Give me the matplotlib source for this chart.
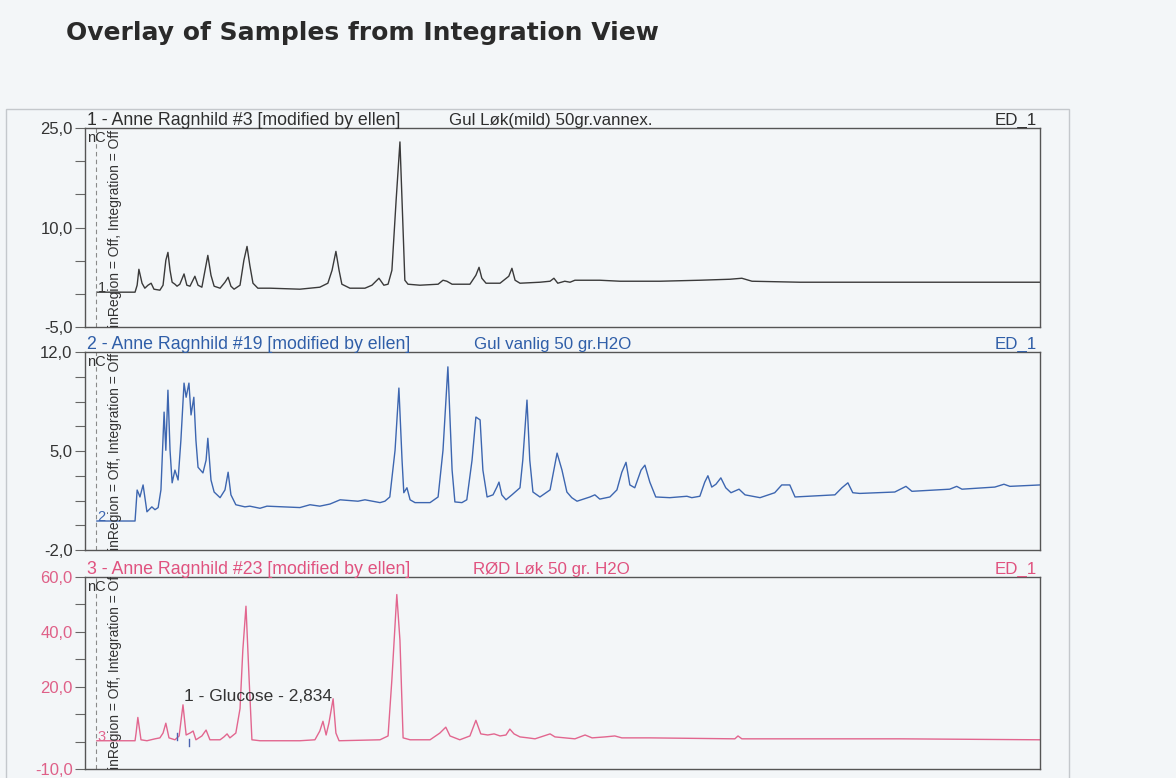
import matplotlib
matplotlib.use("Agg")
import matplotlib.pyplot as plt
from matplotlib.patches import Rectangle
from matplotlib.ticker import FixedLocator, FuncFormatter

plt.rcParams["font.family"] = ["Liberation Sans", "DejaVu Sans"]

TITLE = "Overlay of Samples from Integration View"
RUN_LABELS = [
    "1 - Anne Ragnhild #3 [modified by ellen]",
    "2 - Anne Ragnhild #19 [modified by ellen]",
    "3 - Anne Ragnhild #23 [modified by ellen]",
]
SAMPLE_NAMES = ["Gul Løk(mild) 50gr.vannex.", "Gul vanlig 50 gr.H2O", "RØD Løk 50 gr. H2O"]
DETECTOR = "ED_1"
TRACE_IDS = ["1", "2", "3"]

# y ranges (nC) and labelled ticks for each run
Y_LIMITS = [(-5.0, 25.0), (-2.0, 12.0), (-10.0, 60.0)]
Y_MAJOR = [[-5.0, 10.0, 25.0], [-2.0, 5.0, 12.0], [-10.0, 20.0, 40.0, 60.0]]
Y_MINOR = [[0.0, 5.0, 15.0, 20.0], [-0.25, 1.5, 3.25, 6.75, 8.5, 10.25], [0.0, 10.0, 30.0, 50.0]]

# run 1: retention time (min) / signal (nC)
t1 = [0.34, 1.43, 1.49, 1.54, 1.63, 1.71, 1.80, 1.89, 1.97, 2.14, 2.23, 2.31, 2.37, 2.43, 2.49,
      2.57, 2.63, 2.71, 2.83, 2.91, 3.00, 3.14, 3.23, 3.34, 3.43, 3.51, 3.60, 3.69, 3.86, 4.00,
      4.09, 4.17, 4.26, 4.43, 4.54, 4.63, 4.71, 4.80, 4.94, 5.29, 6.14, 6.71, 6.94, 7.06, 7.17,
      7.26, 7.34, 7.57, 8.00, 8.20, 8.40, 8.54, 8.66, 8.77, 8.89, 9.00, 9.09, 9.14, 9.23, 9.57,
      10.09, 10.23, 10.34, 10.49, 11.00, 11.17, 11.26, 11.34, 11.46, 11.86, 12.11, 12.20, 12.29,
      12.43, 13.00, 13.29, 13.40, 13.51, 13.71, 13.86, 14.00, 14.71, 15.29, 16.43, 17.57, 18.43,
      18.77, 19.06, 20.43, 23.29, 27.29]
sig1 = [0.25, 0.25, 1.3, 3.7, 1.6, 0.85, 1.3, 1.6, 0.7, 0.55, 1.3, 5.05, 6.25, 3.55, 1.75,
        1.45, 1.15, 1.45, 3.0, 1.3, 1.15, 2.65, 1.3, 1.0, 3.55, 5.8, 2.8, 1.15, 0.85, 1.75,
        2.5, 1.15, 0.7, 1.3, 5.05, 7.15, 4.3, 1.6, 0.85, 0.85, 0.7, 1.0, 1.6, 3.55, 6.4,
        3.55, 1.45, 0.85, 0.85, 1.3, 2.35, 1.3, 1.45, 3.55, 14.05, 22.9, 9.55, 2.05, 1.45, 1.3,
        1.45, 2.05, 1.9, 1.45, 1.45, 2.8, 4.0, 2.35, 1.6, 1.6, 2.65, 3.85, 2.05,
        1.6, 1.75, 1.9, 2.35, 1.6, 1.9, 1.75, 2.05, 2.05, 1.9, 1.9, 2.05, 2.2,
        2.35, 1.9, 1.75, 1.75, 1.75]

# run 2
t2 = [0.34, 1.43, 1.49, 1.54, 1.57, 1.66, 1.77, 1.91, 2.00, 2.09, 2.17, 2.26, 2.31, 2.37, 2.43,
      2.49, 2.57, 2.66, 2.74, 2.83, 2.89, 2.97, 3.03, 3.11, 3.17, 3.23, 3.37, 3.46, 3.51, 3.60,
      3.69, 3.86, 4.00, 4.09, 4.17, 4.31, 4.57, 4.71, 5.00, 5.20, 5.66, 6.14, 6.43, 6.71, 7.00,
      7.29, 7.80, 8.00, 8.43, 8.57, 8.71, 8.86, 8.97, 9.06, 9.11, 9.20, 9.29, 9.43, 9.86, 10.09,
      10.23, 10.37, 10.49, 10.57, 10.77, 10.91, 11.06, 11.17, 11.29, 11.37, 11.49, 11.66, 11.77,
      11.83, 11.91, 12.03, 12.20, 12.43, 12.51, 12.63, 12.71, 12.80, 13.00, 13.29, 13.49, 13.63,
      13.77, 13.91, 14.06, 14.43, 14.57, 14.71, 15.00, 15.20, 15.34, 15.46, 15.57, 15.71, 15.89,
      16.00, 16.14, 16.31, 16.71, 17.20, 17.34, 17.57, 17.71, 17.80, 17.91, 18.03, 18.17, 18.31,
      18.46, 18.69, 18.86, 19.29, 19.71, 19.91, 20.14, 20.29, 21.43, 21.63, 21.80, 21.94, 22.14,
      23.14, 23.46, 23.63, 24.71, 24.91, 25.06, 26.00, 26.26, 26.43, 27.29]
sig2 = [0.05, 0.05, 2.24, 1.95, 1.75, 2.6, 0.7, 1.05, 0.85, 1.0, 2.25, 7.75, 5.05, 9.3, 5.05,
        2.75, 3.65, 2.95, 5.75, 9.8, 8.8, 9.8, 7.55, 8.8, 5.75, 3.85, 3.45, 4.35, 5.9, 2.95,
        2.1, 1.7, 2.25, 3.5, 1.9, 1.2, 1.05, 1.1, 0.95, 1.1, 1.05, 1.0, 1.2, 1.1, 1.25,
        1.55, 1.45, 1.55, 1.35, 1.45, 1.75, 5.05, 9.45, 4.35, 2.05, 2.4, 1.55, 1.35, 1.35, 1.75,
        5.05, 10.95, 3.65, 1.4, 1.35, 1.55, 4.35, 7.4, 7.2, 3.65, 1.75, 1.9, 2.45,
        2.8, 1.9, 1.55, 1.9, 2.4, 4.35, 8.6, 4.35, 2.1, 1.75, 2.25, 4.85, 3.65,
        2.1, 1.7, 1.45, 1.75, 1.9, 1.6, 1.75, 2.25, 3.5, 4.2, 2.6, 2.4, 3.65,
        4.0, 2.8, 1.75, 1.7, 1.8, 1.7, 1.8, 2.8, 3.25, 2.45, 2.65, 3.1, 2.4,
        2.05, 2.3, 1.9, 1.7, 2.05, 2.6, 2.6, 1.75, 1.9, 2.4, 2.75, 2.05, 2.0,
        2.1, 2.5, 2.15, 2.3, 2.5, 2.3, 2.45, 2.65, 2.5, 2.6]

# run 3
t3 = [0.34, 1.43, 1.46, 1.51, 1.60, 1.77, 2.00, 2.14, 2.23, 2.31, 2.40, 2.57, 2.69, 2.80, 2.89,
      3.00, 3.09, 3.17, 3.34, 3.46, 3.57, 3.86, 3.97, 4.06, 4.14, 4.31, 4.43, 4.51, 4.60, 4.69,
      4.77, 5.00, 6.14, 6.57, 6.71, 6.80, 6.89, 6.97, 7.09, 7.17, 7.26, 8.43, 8.66, 8.77, 8.91,
      9.00, 9.09, 9.29, 9.86, 10.14, 10.31, 10.43, 10.57, 10.71, 11.00, 11.17, 11.31, 11.51,
      11.69, 11.86, 12.03, 12.14, 12.26, 12.43, 12.66, 12.86, 13.29, 13.43, 14.00, 14.29, 14.49,
      14.86, 15.14, 15.34, 16.14, 18.57, 18.66, 18.77, 20.43, 23.29, 27.29]
sig3 = [0.3, 0.3, 3.1, 8.8, 0.65, 0.3, 1.0, 1.35, 3.1, 6.7, 1.35, 0.65, 2.05, 13.4, 2.4,
        3.1, 3.85, 0.65, 2.05, 4.2, 0.65, 0.65, 1.7, 2.8, 1.35, 3.1, 12.0, 33.35, 49.35, 22.7,
        0.65, 0.3, 0.3, 0.65, 3.85, 7.4, 2.4, 6.7, 15.6, 3.1, 0.3, 0.65, 2.05, 22.7, 53.6,
        36.9, 1.35, 0.65, 0.65, 3.1, 5.25, 2.05, 1.35, 0.65, 2.05, 7.75, 2.8, 2.4,
        2.8, 2.05, 2.4, 4.55, 2.8, 1.7, 1.35, 1.0, 2.8, 1.7, 1.0, 2.4, 1.35,
        1.7, 2.05, 1.35, 1.35, 1.0, 2.05, 1.0, 1.0, 1.0, 0.65]

BASELINES = [0.25, 0.05, 0.3]
PEAK_LABEL = "1 - Glucose - 2,834"
PEAK_LABEL_POS = (2.83, 16.3)
GLUCOSE_DELIMITERS = [(2.63, 0.5, 3.0), (2.97, -1.5, 1.0)]
REGION_LINE = 0.31
X_RANGE = (0.0, 27.29)

TRACE_COLORS = ["#3a3a3a", "#3d66b0", "#e2668f"]
HEADER_COLORS = ["#2e2e2e", "#2f5ea8", "#e0527f"]
TICK_COLORS = ["#333333", "#333333", "#df6088"]
BG = "#f3f6f8"

traces = [(t1, sig1), (t2, sig2), (t3, sig3)]

fig = plt.figure(figsize=(11.76, 7.78), dpi=100, facecolor=BG)
W, H = 1176.0, 778.0

fig.text(66 / W, 1 - 40 / H, TITLE, fontsize=18, fontweight="bold", family="DejaVu Sans",
         color="#2a2a2a", va="baseline")
fig.add_artist(Rectangle((6 / W, -0.05), (1069 - 6) / W, 0.05 + 1 - 109 / H,
                         transform=fig.transFigure, fill=False, edgecolor="#c4c8cc", linewidth=1.0))

panel_px = [(128, 327), (352, 550), (577, 769)]
fmt = FuncFormatter(lambda v, _: f"{v:.1f}".replace(".", ","))

for i, (top, bottom) in enumerate(panel_px):
    ax = fig.add_axes([85 / W, 1 - bottom / H, 955 / W, (bottom - top) / H])
    ax.set_facecolor(BG)
    t, s = traces[i]
    ax.plot(t, s, color=TRACE_COLORS[i], linewidth=1.0, solid_joinstyle="round")
    ax.set_xlim(*X_RANGE)
    ax.set_ylim(*Y_LIMITS[i])
    ax.set_xticks([])
    ax.yaxis.set_major_locator(FixedLocator(Y_MAJOR[i]))
    ax.yaxis.set_minor_locator(FixedLocator(Y_MINOR[i]))
    ax.yaxis.set_major_formatter(fmt)
    ax.tick_params(axis="y", which="both", length=7, width=0.8, color="#666666",
                   labelsize=12, labelcolor=TICK_COLORS[i], pad=2)
    for sp in ax.spines.values():
        sp.set_color("#555555")
        sp.set_linewidth(1.0)

    ax.annotate(RUN_LABELS[i], xy=(0.002, 1.0), xycoords="axes fraction", xytext=(0, 2.5),
                textcoords="offset points", fontsize=12.8, color=HEADER_COLORS[i], va="baseline")
    mid_x = [0.381, 0.407, 0.406][i]
    ax.annotate(SAMPLE_NAMES[i], xy=(mid_x, 1.0), xycoords="axes fraction", xytext=(0, 2.5),
                textcoords="offset points", fontsize=12.2, color=HEADER_COLORS[i], va="baseline")
    ax.annotate(DETECTOR, xy=(0.997, 1.0), xycoords="axes fraction", xytext=(0, 2.5),
                textcoords="offset points", fontsize=12.2, color=HEADER_COLORS[i],
                va="baseline", ha="right")

    ax.axvline(REGION_LINE, color="#8a8a8a", linestyle=(0, (4, 3)), linewidth=0.8)
    ax.text(0.002, 0.985, "nC", transform=ax.transAxes, fontsize=10.5, color="#333333",
            va="top", ha="left")
    ax.text(0.86, 0.0, "inRegion = Off, Integration = Off", transform=ax.get_xaxis_transform(),
            rotation=90, fontsize=10, color="#333333", ha="center", va="bottom", clip_on=True)
    ax.text(0.36, BASELINES[i], TRACE_IDS[i], fontsize=10.5, color=TRACE_COLORS[i],
            va="baseline", ha="left")

    if i == 2:
        ax.text(PEAK_LABEL_POS[0], PEAK_LABEL_POS[1], PEAK_LABEL, fontsize=12.5,
                color="#333333", va="center", ha="left")
        for x0, y0, y1 in GLUCOSE_DELIMITERS:
            ax.plot([x0, x0], [y0, y1], color="#4a62b0", linewidth=1.0)

fig.savefig("out.png", dpi=100, facecolor=BG)
